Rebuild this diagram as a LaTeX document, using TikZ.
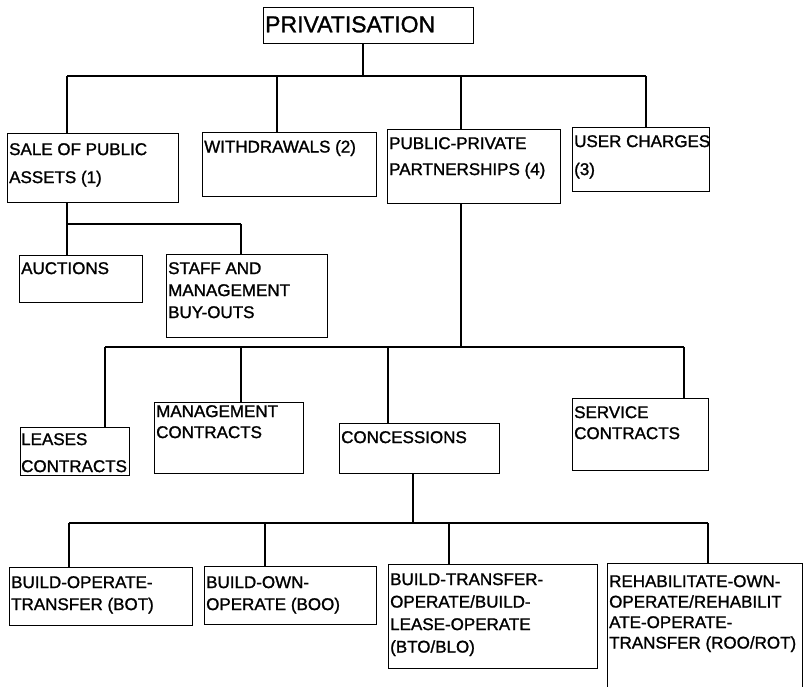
\documentclass[tikz,border=0pt]{standalone}
\usepackage{fontspec}
\setmainfont{Liberation Sans}[FakeBold=1.3]
\tikzset{
  bx/.style={draw, line width=1.2pt, inner sep=0pt, anchor=north west},
  txt/.style={anchor=north west, inner sep=0pt, align=left},
  ln/.style={line width=1.2pt},
}
\newcommand\mkbox[5]{\node[bx, minimum width={(#4-#2)*1pt}, minimum height={(#5-#3)*1pt}] (#1) at (#2,#3) {};}
\newcommand\fs[1]{\fontsize{17}{#1}\selectfont}
\begin{document}
\begin{tikzpicture}[x=1pt,y=-1pt]
\useasboundingbox (0,0) rectangle (803,687);
\clip (0,0) rectangle (803,687);
% boxes
\mkbox{priv}{263}{7}{473}{43}
\node[txt, font=\fontsize{23}{27}\selectfont] (privt) at (265,16) {PRIVATISATION};
\mkbox{sale}{7}{133}{178}{202}
\node[txt, font=\fs{28}] (salet) at (9,143) {SALE OF PUBLIC\\ASSETS (1)};
\mkbox{with}{202}{132}{376}{196}
\node[txt, font=\fs{22}] (witht) at (204,140) {WITHDRAWALS (2)};
\mkbox{ppp}{387}{129}{560}{203}
\node[txt, font=\fs{26}] (pppt) at (389,137) {PUBLIC-PRIVATE\\PARTNERSHIPS (4)};
\mkbox{uc}{572}{127}{709}{191}
\node[txt, font=\fs{28}] (uct) at (574,135) {USER CHARGES\\(3)};
\mkbox{auc}{19}{255}{142}{302}
\node[txt, font=\fs{22}] (auct) at (21,262) {AUCTIONS};
\mkbox{staff}{166}{254}{327}{337}
\node[txt, font=\fs{22}] (stafft) at (168,262) {STAFF AND\\MANAGEMENT\\BUY-OUTS};
\mkbox{lease}{20}{427}{129}{475}
\node[txt, font=\fs{27}] (leaset) at (21,433) {LEASES\\CONTRACTS};
\mkbox{mgmt}{154}{402}{303}{473}
\node[txt, font=\fs{21}] (mgmtt) at (156,405) {MANAGEMENT\\CONTRACTS};
\mkbox{conc}{339}{423}{499}{473}
\node[txt, font=\fs{22}] (conct) at (341,431) {CONCESSIONS};
\mkbox{serv}{572}{398}{708}{470}
\node[txt, font=\fs{21}] (servt) at (574,406) {SERVICE\\CONTRACTS};
\mkbox{bot}{9}{567}{192}{625}
\node[txt, font=\fs{22}] (bott) at (11,576) {BUILD-OPERATE-\\TRANSFER (BOT)};
\mkbox{boo}{204}{566}{376}{624}
\node[txt, font=\fs{22}] (boot) at (206,576) {BUILD-OWN-\\OPERATE (BOO)};
\mkbox{bto}{388}{564}{597}{668}
\node[txt, font=\fs{22.5}] (btot) at (390,573) {BUILD-TRANSFER-\\OPERATE/BUILD-\\LEASE-OPERATE\\(BTO/BLO)};
\mkbox{rot}{607}{563}{802}{710}
\node[txt, font=\fs{20.5}] (rott) at (609,575) {REHABILITATE-OWN-\\OPERATE/REHABILIT\\ATE-OPERATE-\\TRANSFER (ROO/ROT)};
% level 1 connectors
\coordinate (t1) at (363,76);
\coordinate (b1L) at (67,76);
\coordinate (b1R) at (646,76);
\coordinate (d12) at (277,76);
\coordinate (d13) at (461,76);
\draw[ln] (priv.south -| t1) -- (t1);
\draw[ln] (b1L) -- (b1R);
\draw[ln] (b1L) -- (b1L |- sale.north);
\draw[ln] (d12) -- (d12 |- with.north);
\draw[ln] (d13) -- (d13 |- ppp.north);
\draw[ln] (b1R) -- (b1R |- uc.north);
% sale of public assets
\coordinate (b2L) at (67,224);
\coordinate (b2R) at (241,224);
\draw[ln] (sale.south -| b2L) -- (b2L) -- (b2R);
\draw[ln] (b2L) -- (b2L |- auc.north);
\draw[ln] (b2R) -- (b2R |- staff.north);
% ppp
\coordinate (t3) at (461,347);
\coordinate (b3L) at (105,347);
\coordinate (b3R) at (684,347);
\coordinate (d32) at (241,347);
\coordinate (d33) at (388,347);
\draw[ln] (ppp.south -| t3) -- (t3);
\draw[ln] (b3L) -- (b3R);
\draw[ln] (b3L) -- (b3L |- lease.north);
\draw[ln] (d32) -- (d32 |- mgmt.north);
\draw[ln] (d33) -- (d33 |- conc.north);
\draw[ln] (b3R) -- (b3R |- serv.north);
% concessions
\coordinate (t4) at (413,523);
\coordinate (b4L) at (69,523);
\coordinate (b4R) at (708,523);
\coordinate (d42) at (265,523);
\coordinate (d43) at (449,523);
\draw[ln] (conc.south -| t4) -- (t4);
\draw[ln] (b4L) -- (b4R);
\draw[ln] (b4L) -- (b4L |- bot.north);
\draw[ln] (d42) -- (d42 |- boo.north);
\draw[ln] (d43) -- (d43 |- bto.north);
\draw[ln] (b4R) -- (b4R |- rot.north);
\end{tikzpicture}
\end{document}
